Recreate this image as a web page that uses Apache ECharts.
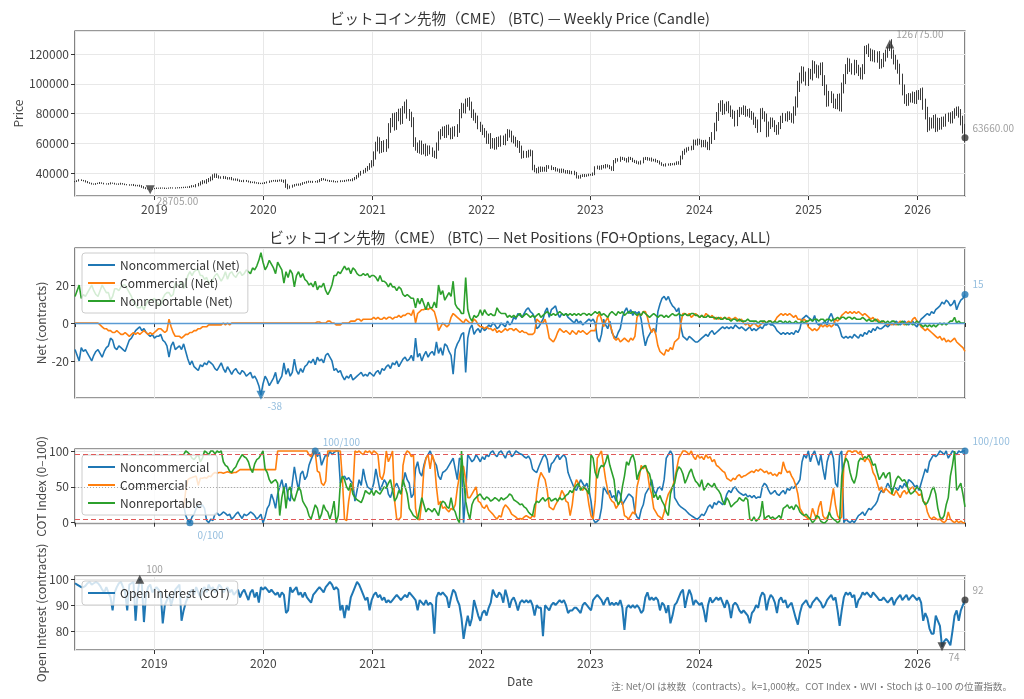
<!DOCTYPE html>
<html>
<head>
<meta charset="utf-8">
<script src="https://cdn.jsdelivr.net/npm/echarts@6.0.0/dist/echarts.min.js"></script>
<style>html,body{margin:0;padding:0;background:#fff}#main{width:1024px;height:699px}</style>
</head>
<body>
<div id="main"></div>
<script>
// weekly COT report dates (Tuesdays), first week
const START = Date.UTC(2018, 3, 10);
const DAY = 86400000;

// weekly close, in thousands
const price_k = [
  34.2, 34.8, 35.3, 35.0, 34.6, 34.1, 33.5, 33.0, 32.6, 32.4,
  32.8, 33.1, 33.4, 33.0, 32.7, 32.5, 32.8, 33.2, 33.0, 32.6,
  32.4, 32.6, 32.9, 32.5, 32.2, 32.0, 31.8, 32.1, 31.7, 31.4,
  31.6, 31.2, 30.6, 30.0, 29.5, 29.1, 28.705, 29.4, 29.6, 29.8,
  29.7, 29.9, 29.8, 29.6, 29.7, 29.9, 30.0, 29.8, 29.9, 30.1,
  30.0, 30.3, 30.2, 30.5, 30.4, 30.8, 31.2, 31.0, 31.8, 32.5,
  33.4, 34.2, 33.8, 34.8, 35.6, 36.4, 37.8, 38.6, 37.6, 37.0,
  36.8, 37.2, 36.5, 36.2, 36.6, 35.8, 35.4, 35.7, 35.0, 34.6,
  34.4, 34.8, 34.5, 34.0, 33.6, 33.8, 33.4, 33.2, 33.0, 32.9,
  33.1, 33.4, 33.9, 34.3, 34.6, 34.9, 34.5, 34.8, 35.1, 34.6,
  34.2, 31.5, 30.2, 30.8, 31.4, 31.9, 32.3, 32.0, 32.6, 33.2,
  33.5, 33.9, 34.3, 33.8, 34.2, 34.0, 34.5, 35.2, 36.0, 35.6,
  35.1, 34.8, 34.4, 34.6, 34.2, 34.0, 34.3, 34.6, 34.4, 34.8,
  35.0, 35.3, 35.0, 35.8, 36.6, 37.8, 39.2, 40.4, 41.2, 42.3,
  43.5, 45.2, 47.0, 52, 58, 61, 56, 59, 57, 60,
  70, 74, 77, 72, 78, 80, 76, 82, 86, 80,
  78, 74, 61, 58, 56, 59, 55, 57, 54, 56,
  55, 53, 52, 58, 65, 67, 69, 66, 70, 68,
  65, 69, 67, 70, 80, 84, 83, 87, 88, 85,
  80, 78, 76, 72, 70, 68, 66, 62, 64, 59,
  61, 58, 62, 60, 63, 61, 64, 67, 66, 63,
  62, 60, 59, 56, 52, 53, 52, 54, 53, 44,
  42, 41, 43, 42, 43, 42, 44, 44, 43, 43,
  42, 42, 41, 42, 41, 40.5, 41, 40, 40.5, 39.5,
  37.5, 37, 38, 38.5, 38, 38.5, 38.8, 38.8, 39.5, 43.5,
  44, 43, 44.5, 44, 45, 44.5, 43.5, 42.5, 47.5, 49,
  48.5, 50, 49.5, 49, 48, 50, 49.5, 48, 47.5, 47,
  46.5, 47.5, 49.5, 50, 49, 49.5, 48.5, 48.8, 48, 47.5,
  46.5, 45.5, 45, 45.8, 45.5, 46, 45.8, 46.2, 47, 46.5,
  50.5, 53.5, 55, 56, 56.5, 57, 61, 60, 61.5, 60.5,
  59, 60.5, 59, 57.5, 62, 65, 71, 78, 84, 86,
  82, 84, 85.5, 83, 80, 79, 74, 80, 82, 81.5,
  83, 80, 81, 79.5, 78, 75, 73, 70, 81, 79,
  77, 67, 72, 75, 73, 70, 68, 72, 76, 78,
  77, 79, 78, 76, 82, 88, 98, 104, 108, 105,
  102, 107, 106, 112, 110, 107, 109, 111, 102, 96,
  88, 92, 90, 87, 86, 90, 85, 97, 103, 110,
  114, 111, 109, 113, 110, 108, 106, 110, 122, 124,
  121, 118, 120, 117, 119, 113, 114, 118, 120, 122,
  126.775, 120, 116, 113, 110, 103, 96, 90, 88, 91,
  90, 92, 89, 93, 92, 94, 86, 80, 72, 74,
  73, 76, 71, 74, 72, 75, 74, 77, 78, 76,
  79, 81, 82, 80, 75, 70, 63.66
];
// weekly wick beyond the body, in thousands (each side)
const wick_k = [
  0.4, 0.3, 0.5, 0.4, 0.3, 0.5, 0.4, 0.3, 0.4, 0.3,
  0.4, 0.3, 0.5, 0.3, 0.4, 0.3, 0.4, 0.5, 0.3, 0.4,
  0.3, 0.4, 0.5, 0.3, 0.4, 0.3, 0.4, 0.3, 0.5, 0.4,
  0.4, 0.5, 0.6, 0.5, 0.4, 0.2, 0, 0, 0.3, 0.4,
  0.3, 0.4, 0.3, 0.4, 0.3, 0.3, 0.4, 0.3, 0.4, 0.3,
  0.4, 0.3, 0.4, 0.3, 0.4, 0.5, 0.6, 0.5, 0.7, 0.8,
  0.9, 1.0, 0.8, 1.1, 1.0, 1.2, 1.3, 1.1, 1.0, 0.8,
  0.7, 0.8, 0.6, 0.7, 0.6, 0.7, 0.5, 0.6, 0.5, 0.6,
  0.5, 0.6, 0.5, 0.4, 0.5, 0.4, 0.5, 0.4, 0.5, 0.4,
  0.4, 0.5, 0.4, 0.6, 0.5, 0.4, 0.5, 0.6, 0.5, 0.6,
  0.8, 1.5, 1.2, 0.8, 0.7, 0.6, 0.5, 0.6, 0.5, 0.6,
  0.5, 0.6, 0.5, 0.4, 0.5, 0.4, 0.6, 0.7, 0.6, 0.5,
  0.5, 0.4, 0.5, 0.4, 0.5, 0.4, 0.4, 0.5, 0.4, 0.5,
  0.5, 0.6, 0.5, 0.6, 0.7, 0.8, 0.9, 1.0, 0.9, 1.1,
  1.2, 1.4, 1.6, 2.5, 3, 3.5, 3, 2.5, 3, 2.8,
  3.5, 3, 3.2, 3.5, 3, 3.2, 3.5, 3, 2, 3.5,
  3, 3.2, 3.5, 3, 2.5, 3, 2.8, 2.5, 2.8, 2.5,
  2.5, 2.2, 2, 2.5, 3, 2.5, 2.2, 2.5, 2.4, 2.6,
  2.4, 2.2, 2.5, 2.8, 3, 3.2, 2.8, 3, 2.5, 3,
  3, 2.8, 2.5, 2.6, 2.4, 2.5, 2.2, 2.4, 2.5, 2.8,
  2.5, 2.4, 2.2, 2.5, 2.3, 2.2, 2.4, 2.5, 2.2, 2.4,
  2.2, 2.3, 2.1, 2.5, 2.4, 2, 1.8, 1.6, 1.8, 2.2,
  1.5, 1.3, 1.2, 1.4, 1.2, 1.1, 1.3, 1.2, 1.1, 1.0,
  1.0, 1.1, 0.9, 1.0, 0.8, 0.9, 1.0, 0.8, 0.9, 1.0,
  1.2, 0.9, 0.8, 0.7, 0.8, 0.6, 0.7, 0.6, 0.8, 1.0,
  1.0, 0.9, 0.8, 0.9, 1.0, 0.8, 0.9, 1.0, 1.2, 1.0,
  0.9, 1.0, 0.8, 0.9, 1.0, 0.9, 0.8, 0.7, 0.8, 0.9,
  0.8, 0.9, 1.0, 0.8, 0.7, 0.8, 0.9, 0.7, 0.8, 0.7,
  0.8, 0.7, 0.6, 0.7, 0.6, 0.7, 0.6, 0.7, 0.8, 0.9,
  1.2, 1.4, 1.3, 1.2, 1.1, 1.3, 1.5, 1.4, 1.6, 1.5,
  1.8, 1.6, 1.8, 2, 2.2, 2.5, 2.8, 3, 3, 2.8,
  3, 2.6, 2.5, 2.8, 2.4, 2.6, 2.8, 2.5, 2.4, 2.2,
  2.5, 2.2, 2, 2.4, 2.2, 2.6, 2.8, 3, 2.5, 2.8,
  2.5, 3, 2.6, 2.4, 2.2, 2.5, 2.4, 2.2, 2.5, 2.4,
  2.2, 2.5, 2.4, 2.2, 2.8, 3.5, 4, 3.5, 3.8, 3.5,
  3.2, 3.5, 3, 3.8, 3.2, 3, 3.4, 3.2, 3.5, 3.8,
  3.5, 3.2, 3, 3.4, 3, 3.2, 3.5, 3.8, 3.5, 3.2,
  3.5, 3, 2.8, 3.2, 3, 2.8, 3, 3.2, 3.5, 2,
  3, 2.8, 3, 2.6, 2.8, 3, 2.7, 2.8, 3, 2.5,
  0, 3.2, 3, 3.5, 3.2, 3.5, 3.8, 3.5, 3, 2.8,
  2.6, 2.8, 2.5, 2.6, 2.8, 3, 3.5, 4, 4.5, 3.5,
  3.2, 3, 3.5, 3.2, 3, 2.8, 3, 2.8, 2.6, 2.8,
  2.6, 2.5, 2.6, 2.8, 3, 3.5, 3
];

// net positions (k contracts)
const net_nc = [
  -14, -17, -20, -13, -15, -14, -16, -18, -20, -17,
  -15, -14, -16, -18, -15, -13, -12, -8, -9, -13,
  -14, -12, -13, -14, -15, -12, -9, -8, -6, -4,
  -3, -2, -4, -3, -5, -6, -7, -6, -8, -7,
  -7, -6, -9, -10, -12, -18, -12, -10, -14, -13,
  -12, -14, -11, -15, -19, -22, -20, -23, -24, -25,
  -22, -23, -21, -22, -20, -21, -22, -24, -25, -23,
  -21, -24, -26, -23, -25, -27, -25, -24, -26, -27,
  -25, -26, -28, -27, -26, -29, -28, -30, -33, -38,
  -32, -28, -30, -33, -31, -29, -26, -32, -30, -28,
  -21, -27, -24, -28, -26, -19, -25, -27, -24, -26,
  -23, -22, -20, -21, -19, -22, -18, -20, -19, -21,
  -17, -16, -18, -20, -25, -24, -26, -25, -28, -30,
  -28, -29, -27, -30, -29, -28, -27, -26, -28, -27,
  -28, -26, -27, -28, -26, -25, -27, -24, -25, -23,
  -22, -24, -21, -22, -20, -23, -21, -19, -18, -20,
  -19, -17, -20, -8, -18, -16, -20, -17, -15, -18,
  -16, -15, -17, -10, -16, -13, -17, -11, -12, -15,
  -17, -27, -14, -11, -9, -6, -5, -26, -8, -3,
  -1, -6, -4, -3, -5, -2, -4, -3, -1, -2,
  0, -1, -3, -2, 0, -1, -2, 1, -1, 0,
  3, 2, 5, 4, 3, 5, 7, 8, 6, 5,
  3, -3, -2, 0, 2, 6, 8, 3, 7, 8,
  9, 5, 3, 5, 4, 5, 3, 2, 1, 0,
  2, 0, 1, -1, 0, 1, 2, 1, 2, 0,
  -8, -10, -6, 2, -1, -3, 1, -5, -7, -8,
  -5, -3, 3, 6, 8, 5, 7, 4, 6, 5,
  6, 2, -6, -12, -8, -6, -4, -3, -5, 6,
  10, 13, 14, 12, 14, 11, 9, 8, 6, 8,
  -2, -7, -8, -9, -7, -8, -9, -10, -10, -9,
  -8, -7, -6, -7, -5, -4, -6, -5, -4, -3,
  -2, -3, -2, -3, -2, -3, -1, -2, -3, -2,
  -3, -4, -3, -2, -4, -3, -4, -3, -2, -3,
  -1, -1, 0, -1, -1, -2, -4, -5, -6, -5,
  -6, -5, -6, -5, -6, -4, -5, -3, 2, 3,
  4, 3, 2, 1, 4, 0, -1, -1, 0, 1,
  -1, 3, 5, 2, -1, -1, -3, -7, -8, -7,
  -8, -7, -8, -6, -7, -8, -6, -7, -5, -6,
  -4, -5, -3, -4, -2, -3, -3, -2, -1, -2,
  -1, 0, -1, 1, 0, -1, 0, 1, 0, -1,
  0, 1, -1, -2, 0, 2, 3, 4, 5, 4,
  6, 5, 7, 8, 9, 11, 10, 12, 11, 9,
  10, 12, 7, 10, 12, 13, 15
];
const net_c = [
  0, 0, 0, 0, 0, 0, 0, 0, 0, 0,
  0, 0, -1, -2, -3, -3, -4, -4, -5, -5,
  -4, -5, -6, -6, -5, -6, -7, -6, -5, -6,
  -5, -6, -5, -4, -5, -6, -5, -6, -5, -4,
  -3, -3, -4, -5, -4, 2, -2, -5, -7, -7,
  -7, -8, -7, -6, -6, -5, -5, -4, -4, -3,
  -3, -2, -2, -2, -1, -1, -1, -1, -1, -1,
  -1, 0, -1, 0, -1, 0, 0, 0, 0, 0,
  0, 0, 0, 0, 0, 0, 0, 0, 0, 0,
  0, 0, 0, 0, 0, 0, 0, 0, 0, 0,
  0, 0, 0, 0, 0, 0, 0, 0, 0, 0,
  0, 0, 0, 0, 0, 0, 0.5, 0.5, 0, 0,
  0, 1, 1, 0, 0, -1, -1, -1, 0, 0,
  0, 0, 1, 1, 1, 2, 2, 1, 2, 2,
  2, 2, 2, 3, 2, 3, 2, 2, 3, 2,
  3, 3, 2, 3, 3, 4, 3, 4, 4, 5,
  5, 4, 7, 0, 5, 6, 7, 7, 8, 7,
  8, 7, 6, 2, -4, -2, 0, -1, -2, -1,
  3, 5, 4, 3, 2, 1, 0, 2, 1, 0,
  0, 2, 1, -1, -2, -2, -3, -2, -3, -3,
  -4, -3, -5, -4, -5, -4, -3, -4, -3, -3,
  -4, -3, -4, -5, -4, -5, -5, -6, -6, -6,
  -5, 2, 1, 0, 0, 2, -2, -8, -9, -10,
  -8, -5, -3, -4, -5, -4, -5, -6, -4, -5,
  -6, -4, -5, -4, -5, -6, -5, -4, -4, -4,
  3, 5, 2, -2, 1, 3, -1, -4, -8, -9,
  -8, -10, -9, -8, -9, -10, -8, -9, -7, 3,
  5, 4, 6, 6, 3, -2, -5, -3, -6, -12,
  -15, -16, -17, -14, -15, -13, -14, -10, -9, -8,
  0, 5, 5, 4, 5, 3, 4, 5, 4, 3,
  4, 3, 5, 4, 3, 4, 2, 3, 2, 3,
  2, 3, 2, 3, 2, 2, 3, 2, 1, 2,
  0, -1, 0, -2, -1, 0, -1, -2, -1, 0,
  1, 0, 1, 1, 0, 1, 3, 4, 5, 4,
  5, 4, 5, 4, 3, 4, 2, 2, 1, 2,
  1, -2, -3, -4, -3, -4, -3, -1, -2, -1,
  -2, -1, -2, -1, 2, 1, 2, 4, 5, 6,
  5, 6, 5, 6, 5, 6, 5, 4, 5, 4,
  3, 2, 3, 1, 2, 1, 0, 1, 0, -1,
  0, -1, 0, -1, 0, 1, 0, -1, 0, 1,
  0, 2, 3, 1, 0, -2, -3, -4, -3, -4,
  -5, -6, -7, -8, -7, -9, -8, -10, -9, -10,
  -9, -8, -10, -11, -12, -13, -15
];
const net_nr = [
  14, 17, 20, 13, 15, 14, 16, 18, 20, 17,
  15, 14, 17, 20, 18, 16, 16, 12, 14, 18,
  18, 17, 19, 20, 20, 18, 16, 14, 11, 10,
  8, 8, 9, 7, 10, 12, 12, 12, 13, 11,
  10, 9, 13, 15, 16, 16, 14, 15, 21, 20,
  19, 22, 18, 21, 25, 27, 25, 27, 28, 28,
  25, 25, 23, 24, 21, 22, 23, 25, 26, 24,
  22, 24, 27, 23, 26, 27, 25, 24, 26, 27,
  25, 26, 28, 27, 26, 29, 28, 30, 33, 37,
  32, 28, 30, 33, 31, 29, 26, 32, 30, 28,
  21, 27, 24, 28, 26, 19, 25, 27, 24, 26,
  23, 22, 20, 21, 19, 22, 17.5, 19.5, 19, 21,
  17, 15, 17, 20, 25, 25, 27, 26, 28, 30,
  28, 29, 26, 29, 28, 26, 25, 25, 26, 25,
  26, 24, 25, 25, 24, 22, 25, 22, 22, 21,
  19, 21, 19, 19, 17, 19, 18, 15, 14, 15,
  14, 13, 13, 8, 13, 10, 13, 10, 7, 11,
  8, 8, 11, 8, 20, 15, 17, 12, 14, 16,
  14, 22, 10, 8, 7, 5, 5, 24, 7, 3,
  1, 4, 3, 4, 7, 4, 7, 5, 4, 5,
  4, 4, 8, 6, 5, 5, 5, 3, 4, 3,
  4, 3, 4, 5, 3, 4, 5, 4, 3, 4,
  3, 4, 5, 3, 4, 5, 6, 5, 4, 5,
  4, 5, 6, 5, 4, 5, 4, 5, 4, 5,
  4, 5, 4, 5, 5, 4, 5, 4, 5, 6,
  5, 6, 4, 5, 4, 3, 5, 6, 5, 4,
  6, 5, 6, 4, 5, 6, 5, 6, 5, 4,
  5, 4, 6, 5, 4, 3, 4, 5, 4, 3,
  4, 4, 3, 4, 3, 4, 5, 4, 4, 5,
  4, 4, 5, 4, 4, 5, 5, 4, 4, 3,
  4, 3, 3, 4, 3, 3, 3, 2, 3, 2,
  2, 3, 2, 2, 1, 2, 2, 1, 2, 1,
  1, 1, 2, 1, 1, 1, 1, 0, 1, 1,
  1, 0, 1, 1, 0, 1, 0, 1, 1, 0,
  1, 0, 1, 0, 0, 1, 0, 0, 1, 0,
  1, 1, 2, 1, 2, 2, 1, 2, 2, 1,
  2, 2, 1, 2, 2, 3, 2, 3, 3, 2,
  3, 3, 2, 3, 2, 2, 2, 3, 2, 1,
  2, 1, 1, 2, 1, 0, 1, 1, 0, 1,
  0, 1, 1, 0, -1, 0, 1, 0, -1, 0,
  0, -1, 0, 1, 0, -1, -2, -1, -2, -1,
  -2, -1, -2, -1, 0, -1, 0, -1, 0, 1,
  1, 3, 0, 1, 0, 0, 0
];

// COT index (0-100), starts at week COT_START
const COT_START = 52;
const cot_nc = [
  25, 10, 3, 0, 8, 12, 20, 24, 22, 25,
  20, 3, 0, 5, 3, 12, 14, 10, 12, 15,
  13, 10, 12, 5, 8, 12, 15, 10, 6, 12,
  10, 12, 15, 13, 10, 5, 8, 12, 0, 8,
  20, 25, 40, 32, 20, 40, 50, 60, 45, 55,
  35, 30, 55, 78, 60, 45, 68, 72, 60, 65,
  80, 88, 95, 100, 92, 98, 80, 88, 95, 92,
  100, 95, 98, 100, 100, 55, 62, 65, 60, 63,
  58, 55, 30, 45, 60, 52, 75, 60, 50, 48,
  45, 55, 75, 60, 45, 52, 60, 55, 40, 35,
  45, 50, 55, 48, 40, 55, 70, 60, 55, 35,
  40, 75, 85, 70, 65, 80, 90, 95, 100, 92,
  85, 80, 65, 60, 70, 72, 75, 80, 85, 90,
  75, 60, 90, 88, 0, 40, 95, 90, 85, 88,
  95, 90, 85, 92, 88, 95, 92, 98, 100, 95,
  92, 98, 100, 95, 90, 98, 100, 92, 95, 100,
  98, 96, 95, 92, 90, 93, 88, 75, 72, 70,
  78, 85, 92, 95, 88, 70, 82, 85, 90, 95,
  88, 92, 95, 90, 70, 62, 55, 48, 45, 52,
  60, 55, 50, 55, 45, 30, 5, 0, 2, 5,
  20, 50, 45, 40, 45, 35, 38, 30, 45, 40,
  25, 30, 35, 40, 38, 35, 15, 8, 5, 18,
  25, 40, 45, 50, 60, 45, 40, 48, 50, 45,
  60, 90, 95, 100, 95, 35, 30, 25, 22, 20,
  18, 15, 12, 10, 8, 6, 5, 8, 12, 10,
  15, 22, 25, 20, 28, 25, 30, 28, 25, 30,
  40, 45, 42, 48, 50, 45, 42, 40, 38, 40,
  36, 38, 35, 38, 34, 36, 35, 50, 55, 52,
  45, 40, 42, 45, 40, 38, 42, 45, 40, 48,
  45, 50, 48, 52, 55, 60, 85, 95, 90, 100,
  85, 95, 100, 90, 80, 95, 75, 60, 85, 95,
  100, 90, 55, 50, 95, 100, 0, 5, 2, 0,
  3, 0, 5, 10, 12, 15, 10, 15, 20, 18,
  22, 25, 30, 40, 45, 42, 48, 55, 50, 45,
  50, 48, 45, 52, 48, 55, 50, 60, 58, 55,
  50, 52, 45, 55, 65, 75, 70, 85, 90, 95,
  92, 95, 100, 98, 95, 100, 90, 95, 100, 98,
  95, 100, 98, 100, 100
];
const cot_c = [
  20, 45, 60, 62, 63, 64, 65, 52, 62, 62,
  63, 62, 65, 64, 68, 70, 69, 70, 70, 69,
  70, 71, 70, 69, 70, 70, 72, 74, 74, 74,
  74, 74, 74, 74, 74, 74, 74, 74, 74, 74,
  74, 74, 74, 74, 74, 100, 100, 100, 100, 100,
  100, 100, 100, 100, 100, 100, 100, 100, 100, 100,
  95, 92, 100, 98, 72, 70, 55, 52, 58, 100,
  100, 100, 100, 100, 100, 100, 60, 5, 3, 30,
  48, 45, 100, 98, 100, 97, 95, 100, 98, 100,
  96, 100, 98, 95, 65, 60, 70, 100, 85, 92,
  100, 30, 5, 4, 8, 80, 95, 100, 98, 92,
  95, 20, 5, 4, 30, 75, 90, 95, 75, 95,
  85, 50, 25, 30, 20, 22, 18, 15, 20, 18,
  25, 48, 65, 80, 78, 60, 35, 35, 40, 45,
  50, 30, 28, 22, 20, 25, 18, 15, 12, 8,
  5, 10, 8, 20, 25, 22, 18, 12, 10, 8,
  5, 6, 5, 8, 10, 8, 6, 10, 8, 40,
  60, 70, 65, 60, 45, 22, 20, 18, 25, 30,
  35, 45, 40, 30, 28, 10, 25, 50, 60, 55,
  48, 45, 50, 45, 25, 10, 5, 30, 90, 95,
  100, 80, 60, 45, 35, 30, 28, 20, 25, 30,
  28, 10, 8, 5, 10, 15, 12, 50, 62, 80,
  75, 80, 70, 50, 40, 20, 15, 10, 8, 5,
  15, 30, 40, 45, 50, 60, 75, 90, 95, 100,
  100, 98, 95, 100, 92, 88, 95, 90, 92, 88,
  95, 90, 92, 85, 88, 80, 78, 75, 72, 70,
  62, 60, 58, 62, 60, 65, 67, 63, 65, 66,
  68, 70, 72, 70, 74, 72, 75, 73, 70, 72,
  68, 70, 66, 68, 65, 70, 68, 85, 75, 70,
  72, 65, 60, 52, 40, 20, 15, 10, 8, 5,
  6, 20, 12, 5, 22, 30, 10, 5, 8, 12,
  30, 48, 25, 10, 5, 8, 80, 95, 100, 100,
  98, 100, 100, 96, 100, 92, 85, 90, 88, 82,
  70, 65, 55, 45, 50, 42, 48, 45, 42, 40,
  38, 45, 40, 35, 42, 45, 40, 44, 48, 50,
  45, 42, 38, 40, 30, 28, 15, 8, 5, 8,
  6, 4, 5, 2, 0, 3, 15, 5, 2, 0,
  3, 0, 2, 0, 0
];
const cot_nr = [
  95, 100, 98, 95, 90, 88, 92, 95, 85, 90,
  100, 98, 95, 100, 100, 96, 100, 98, 100, 85,
  80, 78, 72, 70, 75, 78, 85, 90, 95, 92,
  90, 85, 75, 70, 82, 88, 90, 95, 100, 75,
  70, 60, 55, 58, 60, 55, 10, 35, 50, 20,
  45, 50, 35, 30, 40, 50, 45, 30, 25, 20,
  10, 5, 15, 25, 20, 5, 12, 25, 18, 15,
  5, 15, 30, 0, 10, 55, 65, 60, 50, 45,
  55, 40, 35, 32, 30, 28, 35, 45, 42, 40,
  45, 38, 45, 42, 40, 45, 50, 48, 55, 60,
  45, 30, 35, 45, 40, 60, 50, 40, 20, 15,
  10, 8, 5, 20, 35, 25, 15, 20, 18, 15,
  20, 15, 10, 25, 30, 28, 22, 20, 35, 20,
  15, 5, 0, 100, 60, 30, 15, 5, 25, 32,
  35, 38, 40, 35, 32, 36, 34, 30, 32, 35,
  33, 30, 35, 32, 34, 36, 40, 38, 32, 30,
  28, 25, 26, 22, 20, 15, 12, 10, 25, 30,
  28, 32, 35, 30, 33, 35, 30, 32, 34, 30,
  35, 32, 34, 38, 40, 45, 42, 48, 52, 55,
  45, 50, 48, 45, 40, 95, 90, 70, 62, 75,
  80, 78, 85, 95, 80, 70, 60, 35, 25, 30,
  50, 65, 85, 80, 90, 95, 85, 60, 70, 75,
  78, 80, 72, 68, 55, 35, 40, 32, 38, 30,
  25, 15, 10, 40, 50, 55, 70, 78, 75, 68,
  55, 62, 70, 75, 65, 58, 55, 50, 60, 45,
  50, 55, 52, 50, 55, 48, 45, 40, 30, 25,
  35, 30, 22, 25, 28, 30, 35, 32, 30, 35,
  32, 5, 3, 8, 2, 5, 10, 30, 5, 8,
  10, 6, 8, 5, 7, 10, 6, 20, 22, 25,
  20, 23, 18, 25, 22, 15, 12, 10, 12, 8,
  5, 0, 3, 10, 8, 2, 0, 0, 3, 15,
  8, 5, 3, 0, 2, 65, 80, 90, 85, 70,
  60, 55, 65, 85, 90, 88, 92, 90, 95, 88,
  80, 82, 70, 60, 65, 70, 62, 68, 70, 40,
  50, 60, 65, 62, 58, 60, 55, 45, 40, 42,
  45, 50, 48, 45, 30, 25, 28, 35, 45, 50,
  40, 20, 8, 5, 10, 25, 35, 65, 80, 100,
  45, 50, 55, 40, 22
];

// open interest (k contracts)
const oi = [
  98.5, 98, 97.5, 97, 97, 97.5, 98.5, 99, 98, 98.5,
  99, 98.5, 97.5, 96, 95, 97, 95, 93, 88, 95,
  97, 98.5, 99, 97, 95, 88, 98, 98.5, 99, 84,
  95, 100, 98, 83.5, 94, 97, 98, 95, 96, 97,
  96, 95, 83, 90, 92, 94, 90, 93, 96, 97,
  98, 84, 88, 91, 93, 95, 96, 94, 97, 95,
  93, 96, 97, 95, 98, 96, 97, 95, 96, 98,
  97, 95, 96, 97, 95, 96, 94, 95, 96, 93,
  95, 96, 94, 92, 95, 96, 93, 95, 91, 97,
  96, 97, 96, 95, 96, 95, 94, 95, 93, 95,
  94, 87, 88, 97, 95, 96, 97, 94, 95, 93,
  95, 93, 92, 91, 94, 95, 96, 97, 96, 95,
  97, 98, 99, 98, 96, 97, 96, 88, 90, 85,
  90, 88, 93, 95, 97, 99, 98, 96, 94, 92,
  93, 88, 92, 94, 95, 93, 94, 92, 93, 91,
  92, 91, 92, 93, 94, 93, 92, 93, 94, 93,
  95, 94, 93, 92, 88, 92, 91, 90, 92, 90,
  91, 90, 79, 93, 95, 94, 95, 94, 93, 89,
  93, 96, 95, 92, 90, 85, 77, 82, 86, 82,
  85, 92, 89, 86, 84, 87, 88, 86, 89, 91,
  96, 94, 93, 95, 94, 91, 96, 93, 89, 92,
  93, 91, 88, 91, 92, 91, 92, 91, 92, 90,
  86, 90, 89, 89, 78, 90, 89, 88, 90, 91,
  90, 91, 92, 91, 92, 90, 87, 88, 88, 89,
  89, 88, 87, 90, 91, 90, 89, 88, 92, 93,
  94, 93, 92, 90, 92, 93, 90, 91, 90, 91,
  90, 92, 89, 80.5, 89, 90, 89, 90, 89, 90,
  89, 87, 88, 93, 95, 92, 93, 92, 93, 92,
  88, 91, 90, 87, 90, 83, 86, 90, 91, 93,
  95, 96, 89, 93, 96, 94, 90, 92, 91, 90,
  91, 88, 83.5, 90, 93, 91, 92, 93, 92, 93,
  91, 89, 92, 90, 85, 90, 91, 90, 88, 87,
  88, 87, 86, 83, 87, 88, 90, 89, 93, 95,
  94, 88, 92, 94, 93, 91, 87, 92, 93, 91,
  92, 89, 90, 91, 88, 85, 82.5, 87, 90, 91,
  92, 90, 89, 91, 92, 93, 92, 91, 89, 90,
  92, 93, 94, 92, 93, 88, 82, 88, 93, 95,
  94, 95, 93, 94, 89, 92, 93, 95, 94, 95,
  94, 93, 95, 94, 93, 92, 92, 93, 92, 91,
  92, 93, 90, 92, 93, 94, 92, 93, 94, 92,
  93, 94, 93, 92, 93, 91, 84, 87, 85, 81,
  79, 79, 86, 84, 82, 74, 76, 77, 76, 74.5,
  80, 86, 88, 84, 88, 90, 92
];

const N = price_k.length;
const dates = price_k.map((_, i) => START + i * 7 * DAY);
const price = price_k.map(v => v * 1000);
const xy = (arr, off) => arr.map((v, i) => [dates[i + off], v]);

// open = previous close
const candles = price.map((c, i) => {
  const o = i ? price[i - 1] : c;
  const w = wick_k[i] * 1000;
  return [dates[i], o, c, Math.min(o, c) - w, Math.max(o, c) + w];
});

// min / max / last markers
function marks(arr, off, fmt, col) {
  let lo = 0, hi = 0;
  arr.forEach((v, i) => { if (v < arr[lo]) lo = i; if (v > arr[hi]) hi = i; });
  const last = arr.length - 1;
  const lab = (t, dy) => ({ show: true, formatter: t, position: [11, dy], align: 'left', verticalAlign: 'middle', color: col, fontSize: 10 });
  return [
    { value: [dates[lo + off], arr[lo]], symbol: 'triangle', symbolRotate: 180, label: lab(fmt(arr[lo]), 15.5) },
    { value: [dates[hi + off], arr[hi]], symbol: hi === last ? 'none' : 'triangle', label: lab(fmt(arr[hi]), -5.5) },
    { value: [dates[last + off], arr[last]], symbol: 'circle', symbolSize: 7, label: lab(fmt(arr[last]), -6.5) }
  ];
}

const FONT = '"Noto Sans CJK JP", "Noto Sans", sans-serif';
const BLUE = '#1f77b4', ORANGE = '#ff7f0e', GREEN = '#2ca02c';
const LBLUE = '#7aaed6', GRAY = '#888';

const gridPos = [[31, 165], [248, 150], [449, 75], [576, 74]];
const yCfg = [
  { min: 24500, max: 135500, step: 20000, name: 'Price', gap: 51 },
  { min: -39.5, max: 39.5, step: 20, name: 'Net (contracts)', gap: 28 },
  { min: -1.8, max: 102.8, step: 50, name: 'COT Index (0–100)', gap: 28 },
  { min: 72.7, max: 101.3, step: 10, name: 'Open Interest (contracts)', gap: 28 }
];

const legendBase = {
  orient: 'vertical', left: 82, icon: 'rect', itemWidth: 27, itemHeight: 2, itemGap: 6,
  padding: [6, 8, 6, 6], backgroundColor: 'rgba(255,255,255,0.8)', borderColor: '#ccc',
  borderWidth: 1, borderRadius: 3, textStyle: { fontSize: 12, color: '#333' }
};

let myChart = echarts.init(document.getElementById('main'));
let option = {
  animation: false,
  backgroundColor: '#fff',
  textStyle: { fontFamily: FONT },
  grid: gridPos.map(g => ({ left: 75, top: g[0], width: 890, height: g[1], containLabel: false,
    show: true, borderColor: '#333', borderWidth: 1.2 })),
  xAxis: gridPos.map((g, k) => ({
    type: 'time', gridIndex: k, min: dates[0], max: dates[N - 1],
    splitNumber: 8, minInterval: 365 * DAY, maxInterval: 366 * DAY,
    axisLine: { show: false },
    axisTick: { show: true, length: 4, lineStyle: { color: '#333' } },
    axisLabel: { show: k === 0 || k === 3, fontSize: 12, color: '#444', margin: 7,
      showMinLabel: false, showMaxLabel: false,
      formatter: v => String(new Date(v).getUTCFullYear()) },
    splitLine: { show: true, lineStyle: { color: '#e8e8e8' } },
    name: k === 3 ? 'Date' : '', nameLocation: 'middle', nameGap: 25,
    nameTextStyle: { fontSize: 12, color: '#444' }
  })),
  yAxis: yCfg.map((c, k) => ({
    type: 'value', gridIndex: k, min: c.min, max: c.max, minInterval: c.step, maxInterval: c.step,
    axisLine: { show: false },
    axisTick: { show: true, length: 4, lineStyle: { color: '#333' } },
    axisLabel: { fontSize: 12, color: '#444', margin: 6, showMinLabel: false, showMaxLabel: false,
      formatter: v => String(v) },
    splitLine: { show: true, lineStyle: { color: '#e8e8e8' } },
    name: c.name, nameLocation: 'middle', nameRotate: 90, nameGap: c.gap, nameMoveOverlap: false,
    nameTextStyle: { fontSize: 12, color: '#444' }
  })),
  legend: [
    Object.assign({}, legendBase, { top: 253, data: ['Noncommercial (Net)', 'Commercial (Net)', 'Nonreportable (Net)'] }),
    Object.assign({}, legendBase, { top: 455, data: ['Noncommercial', 'Commercial', 'Nonreportable'] }),
    Object.assign({}, legendBase, { top: 581, data: ['Open Interest (COT)'] })
  ],
  graphic: [
    { type: 'text', x: 520, y: 18, style: { text: 'ビットコイン先物（CME） (BTC) — Weekly Price (Candle)',
      fontSize: 14.5, fontFamily: FONT, fill: '#333', align: 'center', verticalAlign: 'middle' } },
    { type: 'text', x: 520, y: 237, style: { text: 'ビットコイン先物（CME） (BTC) — Net Positions (FO+Options, Legacy, ALL)',
      fontSize: 14.5, fontFamily: FONT, fill: '#333', align: 'center', verticalAlign: 'middle' } },
    { type: 'text', x: 1012, y: 686, style: { text: '注: Net/OI は枚数（contracts）。k=1,000枚。COT Index・WVI・Stoch は 0–100 の位置指数。',
      fontSize: 9.6, fontFamily: FONT, fill: '#777', align: 'right', verticalAlign: 'middle' } }
  ],
  series: [
    { name: 'Price', type: 'candlestick', xAxisIndex: 0, yAxisIndex: 0, barWidth: 1, data: candles,
      itemStyle: { color: '#3f5e5e', color0: '#7a4444', borderColor: '#3a3a3a', borderColor0: '#3a3a3a', borderWidth: 1 } },
    { type: 'scatter', xAxisIndex: 0, yAxisIndex: 0, symbolSize: 9, z: 5, itemStyle: { color: '#333' },
      data: marks(price, 0, v => v.toFixed(2), GRAY) },

    { name: 'Noncommercial (Net)', type: 'line', xAxisIndex: 1, yAxisIndex: 1, color: BLUE,
      showSymbol: false, lineStyle: { width: 1.6 }, data: xy(net_nc, 0) },
    { name: 'Commercial (Net)', type: 'line', xAxisIndex: 1, yAxisIndex: 1, color: ORANGE,
      showSymbol: false, lineStyle: { width: 1.6 }, data: xy(net_c, 0) },
    { name: 'Nonreportable (Net)', type: 'line', xAxisIndex: 1, yAxisIndex: 1, color: GREEN,
      showSymbol: false, lineStyle: { width: 1.6 }, data: xy(net_nr, 0),
      markLine: { silent: true, symbol: 'none', label: { show: false },
        lineStyle: { color: '#5a9bd4', width: 1.3, type: 'solid' }, data: [{ yAxis: 0 }] } },
    { type: 'scatter', xAxisIndex: 1, yAxisIndex: 1, symbolSize: 9, z: 5, itemStyle: { color: BLUE },
      data: marks(net_nc, 0, v => String(v), LBLUE) },

    { name: 'Noncommercial', type: 'line', xAxisIndex: 2, yAxisIndex: 2, color: BLUE,
      showSymbol: false, lineStyle: { width: 1.6 }, data: xy(cot_nc, COT_START),
      markLine: { silent: true, symbol: 'none', label: { show: false }, data: [
        { yAxis: 95, lineStyle: { color: '#e05a5a', width: 1, type: [5, 3] } },
        { yAxis: 5, lineStyle: { color: '#e05a5a', width: 1, type: [5, 3] } },
        { yAxis: 50, lineStyle: { color: '#aaa', width: 1, type: [1, 2] } }
      ] } },
    { name: 'Commercial', type: 'line', xAxisIndex: 2, yAxisIndex: 2, color: ORANGE,
      showSymbol: false, lineStyle: { width: 1.6 }, data: xy(cot_c, COT_START) },
    { name: 'Nonreportable', type: 'line', xAxisIndex: 2, yAxisIndex: 2, color: GREEN,
      showSymbol: false, lineStyle: { width: 1.6 }, data: xy(cot_nr, COT_START) },
    { type: 'scatter', xAxisIndex: 2, yAxisIndex: 2, symbolSize: 7, z: 5, itemStyle: { color: BLUE },
      data: marks(cot_nc, COT_START, v => v + '/100', LBLUE).map(d => Object.assign(d, { symbol: 'circle', symbolRotate: 0 })) },

    { name: 'Open Interest (COT)', type: 'line', xAxisIndex: 3, yAxisIndex: 3, color: BLUE,
      showSymbol: false, lineStyle: { width: 2 }, data: xy(oi, 0) },
    { type: 'scatter', xAxisIndex: 3, yAxisIndex: 3, symbolSize: 9, z: 5, itemStyle: { color: '#333' },
      data: marks(oi, 0, v => String(v), GRAY) }
  ]
};
myChart.setOption(option);
</script>
</body>
</html>
